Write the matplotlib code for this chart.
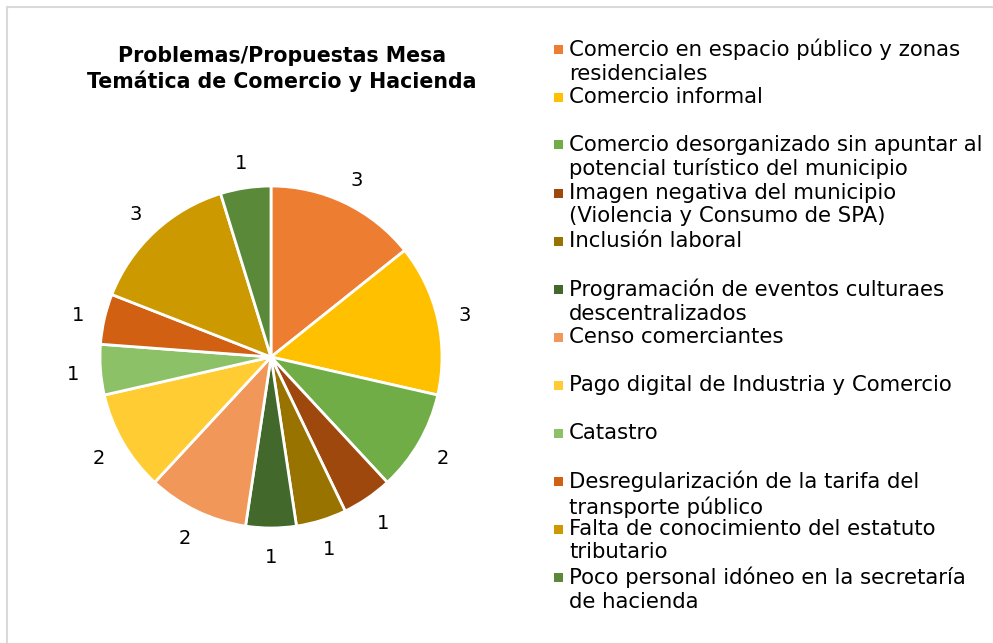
import matplotlib.pyplot as plt
from matplotlib.patches import Rectangle

categorias = [
    'Comercio en espacio público y zonas\nresidenciales',
    'Comercio informal',
    'Comercio desorganizado sin apuntar al\npotencial turístico del municipio',
    'Imagen negativa del municipio\n(Violencia y Consumo de SPA)',
    'Inclusión laboral',
    'Programación de eventos culturaes\ndescentralizados',
    'Censo comerciantes',
    'Pago digital de Industria y Comercio',
    'Catastro',
    'Desregularización de la tarifa del\ntransporte público',
    'Falta de conocimiento del estatuto\ntributario',
    'Poco personal idóneo en la secretaría\nde hacienda',
]
valores = [3, 3, 2, 1, 1, 1, 2, 2, 1, 1, 3, 1]
colores = ['#ED7D31', '#FFC000', '#70AD47', '#9E480E', '#997300', '#43682B',
           '#F1975A', '#FFCD33', '#8CC168', '#D26012', '#CC9A00', '#5A8A39']
titulo = 'Problemas/Propuestas Mesa\nTemática de Comercio y Hacienda'

plt.rcParams['font.family'] = ['DejaVu Sans']
W, H = 993, 643
fig = plt.figure(figsize=(W / 100, H / 100), dpi=100)

# borde gris del área del gráfico
fig.patches.append(Rectangle((7 / W, -0.1), 1.2, (H - 7) / H + 0.1, transform=fig.transFigure,
                             fill=False, edgecolor='#D9D9D9', linewidth=1.5))

cx, cy, r = 271, 357, 171
ax = fig.add_axes([(cx - r) / W, (H - cy - r) / H, 2 * r / W, 2 * r / H])
_, etiquetas = ax.pie(valores, colors=colores, startangle=90, counterclock=False,
                      labels=[str(v) for v in valores], labeldistance=1.16, radius=1,
                      wedgeprops={'linewidth': 2, 'edgecolor': 'white'},
                      textprops={'fontsize': 14, 'color': '#000000'})
for t in etiquetas:
    x, y = t.get_position()
    t.set_position((x, y - 0.015))
    t.set_horizontalalignment('center')
    t.set_verticalalignment('center')
ax.set_xlim(-1, 1)
ax.set_ylim(-1, 1)
ax.set_aspect('equal')

fig.text(282 / W, 1 - 69 / H, titulo, ha='center', va='center', fontsize=14.8,
         fontweight='bold', linespacing=1.2)

# leyenda
y0, paso = 49, 48
for i, (cat, col) in enumerate(zip(categorias, colores)):
    y = y0 + i * paso
    fig.patches.append(Rectangle((554 / W, 1 - (y + 4.5) / H), 9 / W, 9 / H,
                                 transform=fig.transFigure, facecolor=col, edgecolor='none'))
    fig.text(569 / W, 1 - (y - 10) / H, cat, ha='left', va='top', fontsize=15.3,
             linespacing=1.2)

plt.savefig('out.png', dpi=100)
